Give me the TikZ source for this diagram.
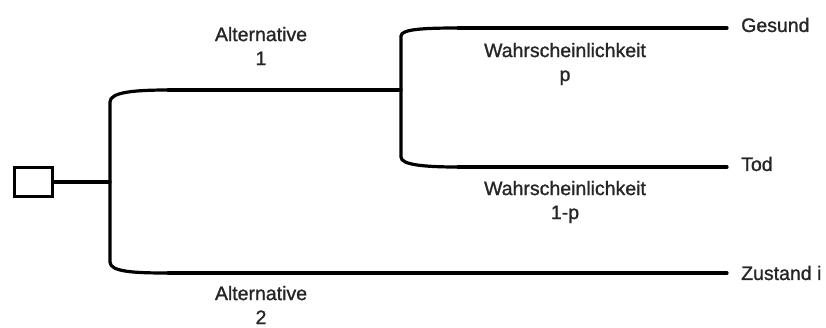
\documentclass[tikz,border=0pt]{standalone}
\usepackage{fontspec}
\setmainfont{Liberation Sans}[FakeBold=1.2]
\begin{document}
\begin{tikzpicture}[x=1pt,y=-1pt,
  branch/.style={line width=3.2pt,line cap=round},
  lbl/.style={font=\fontsize{19.5}{24}\selectfont,align=center,inner sep=0pt,text=black!85},
  endlbl/.style={font=\fontsize{19.5}{24}\selectfont,anchor=west,inner sep=0pt,text=black!85}]
\useasboundingbox (0,0) rectangle (826,327);
% decision box
\node[draw,line width=3pt,minimum width=38pt,minimum height=29pt,inner sep=0pt] (box) at (33,182) {};
% junction coordinates
\coordinate (j1) at (110,182);
\coordinate (j1t) at (110,102);
\coordinate (j1b) at (110,262);
\coordinate (a1s) at (168,90);
\coordinate (a2s) at (168,273);
\coordinate (j2) at (401,90);
\coordinate (j2t) at (401,36);
\coordinate (j2b) at (401,157);
\coordinate (p1s) at (458,28);
\coordinate (p2s) at (458,167);
\coordinate (e1) at (727,28);
\coordinate (e2) at (727,167);
\coordinate (e3) at (727,273);
% connectors
\draw[branch] (box.east) -- (j1);
\draw[branch] (a1s) .. controls (135,90) and (110,92) .. (j1t) -- (j1b) .. controls (110,272) and (135,273) .. (a2s);
\draw[branch] (a1s) -- (j2);
\draw[branch] (a2s) -- (e3);
\draw[branch] (p1s) .. controls (425,28) and (401,29) .. (j2t) -- (j2b) .. controls (401,165) and (425,167) .. (p2s);
\draw[branch] (p1s) -- (e1);
\draw[branch] (p2s) -- (e2);
% labels
\node[lbl] (alt1) at (261,46) {Alternative\\1};
\node[lbl] (alt2) at (261,305) {Alternative\\2};
\node[lbl] (wp) at (565,64) {Wahrscheinlichkeit\\p};
\node[lbl] (w1p) at (565,202) {Wahrscheinlichkeit\\1-p};
\node[endlbl] (ges) at (741,25) {Gesund};
\node[endlbl] (tod) at (741,164) {Tod};
\node[endlbl] (zus) at (741,273) {Zustand i};
\end{tikzpicture}
\end{document}
